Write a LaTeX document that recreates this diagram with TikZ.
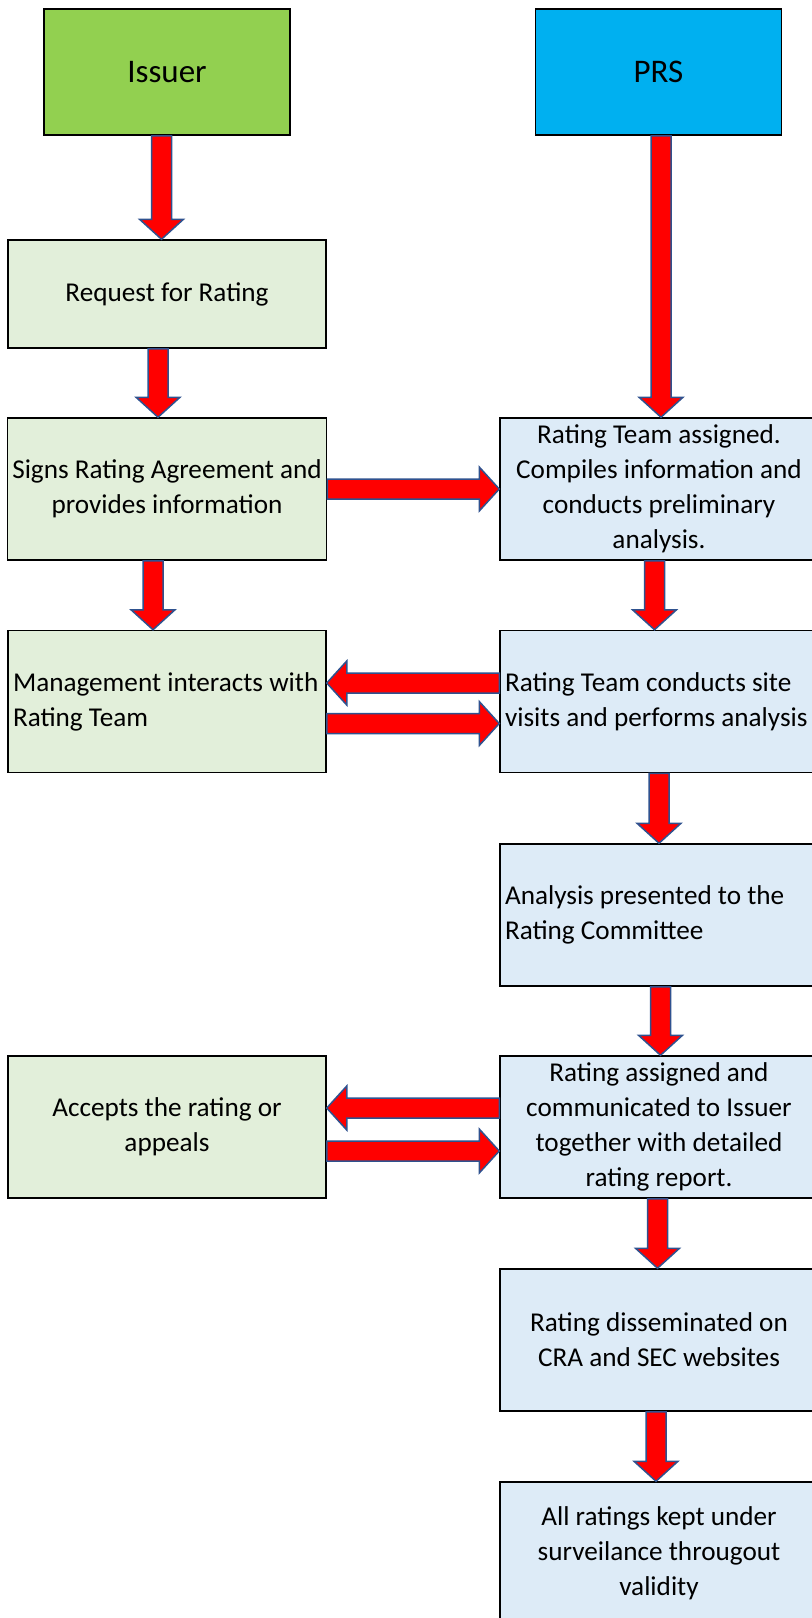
\documentclass[tikz,border=0pt]{standalone}
\usepackage{fontspec}
\setmainfont{Carlito}
\usepackage{tikz}
\usetikzlibrary{positioning, calc}
\definecolor{issuergreen}{RGB}{146,208,80}
\definecolor{prsblue}{RGB}{0,176,240}
\definecolor{palegreen}{RGB}{226,239,218}
\definecolor{paleblue}{RGB}{221,235,247}
\definecolor{arrowred}{RGB}{255,0,0}
\definecolor{arrowedge}{RGB}{47,82,143}
\tikzset{
  box/.style={rectangle, draw=black, line width=0.75pt,
    inner xsep=2.5pt, inner ysep=0pt, align=center,
    minimum width=159pt, minimum height=71pt,
    font=\fontsize{13.6}{17.5}\selectfont},
  headbox/.style={box, minimum width=123pt,
    minimum height=63pt, font=\fontsize{16.5}{20}\selectfont},
  greenbox/.style={box, fill=palegreen},
  bluebox/.style={box, fill=paleblue},
  leftbox/.style={text width=154pt, align=flush left},
  fatarrow/.style={fill=arrowred, draw=arrowedge, line width=0.75pt,
    line join=miter}
}
% block arrow pointing down: x from #1, tip at the y of #2
\newcommand{\fatv}[2]{%
  \path[fatarrow] let \p1=(#1), \p2=(#2) in
    (\x1-5pt,\y1) -- (\x1+5pt,\y1) -- (\x1+5pt,\y2+10pt) -- (\x1+11pt,\y2+10pt)
    -- (\x1,\y2) -- (\x1-11pt,\y2+10pt) -- (\x1-5pt,\y2+10pt) -- cycle;}
% block arrow left or right: y from #1, tip at the x of #2
\newcommand{\fath}[2]{%
  \path[fatarrow] let \p1=(#1), \p2=(#2), \n1={\x2-10pt*sign(\x2-\x1)} in
    (\x1,\y1+5pt) -- ({\n1*1pt},\y1+5pt) -- ({\n1*1pt},\y1+11pt) -- (\x2,\y1)
    -- ({\n1*1pt},\y1-11pt) -- ({\n1*1pt},\y1-5pt) -- (\x1,\y1-5pt) -- cycle;}

\begin{document}
\begin{tikzpicture}[x=0.5pt, y=-0.5pt]
  \useasboundingbox (0,0) rectangle (812,1618);

  % Column heads
  \node[headbox, fill=issuergreen] (issuer) at (167,72) {Issuer};
  \node[headbox, fill=prsblue] (prs) at (658.5,72) {PRS};

  % Issuer side
  \node[greenbox, minimum height=54pt] (request) at (167,294) {Request for Rating};
  \node[greenbox] (signs) at (167,489) {Signs Rating Agreement and\\provides information};
  \node[greenbox, leftbox] (mgmt) at (167,701.5)
    {\mbox{Management interacts with}\\Rating Team};
  \node[greenbox] (accepts) at (167,1127) {Accepts the rating or\\appeals};

  % PRS side
  \node[bluebox] (team) at (659,489) {Rating Team assigned.\\Compiles information and\\conducts preliminary\\analysis.};
  \node[bluebox, leftbox] (visits) at (659,701.5)
    {\mbox{Rating Team conducts site}\\\mbox{visits and performs analysis}};
  \node[bluebox, leftbox] (committee) at (659,915) {Analysis presented to the\\Rating Committee};
  \node[bluebox] (assigned) at (659,1127) {Rating assigned and\\communicated to Issuer\\together with detailed\\rating report.};
  \node[bluebox] (website) at (659,1340) {Rating disseminated on\\CRA and SEC websites};
  \node[bluebox] (surveil) at (659,1553) {All ratings kept under\\surveilance througout\\validity};

  % Down arrows
  \fatv{$(issuer.south)+(-5.5,0)$}{request.north}
  \fatv{$(request.south)+(-9,0)$}{signs.north}
  \fatv{$(signs.south)+(-14,0)$}{mgmt.north}
  \fatv{$(prs.south)+(2.5,0)$}{team.north}
  \fatv{$(team.south)+(-4.5,0)$}{visits.north}
  \fatv{visits.south}{committee.north}
  \fatv{$(committee.south)+(1.5,0)$}{assigned.north}
  \fatv{$(assigned.south)+(-1.5,0)$}{website.north}
  \fatv{$(website.south)+(-3,0)$}{surveil.north}

  % Arrows between the two sides
  \fath{signs.east}{team.west}
  \fath{$(visits.west)+(0,-18.5)$}{mgmt.east}
  \fath{$(mgmt.east)+(0,22)$}{visits.west}
  \fath{$(assigned.west)+(0,-19)$}{accepts.east}
  \fath{$(accepts.east)+(0,24)$}{assigned.west}
\end{tikzpicture}
\end{document}
